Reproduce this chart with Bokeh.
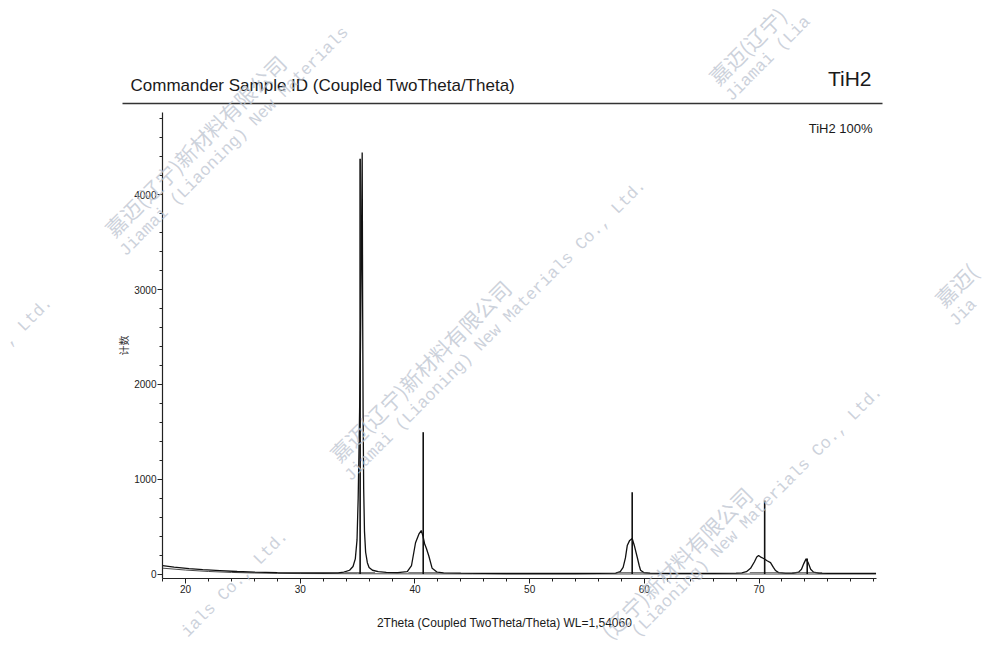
import numpy as np
from bokeh.plotting import figure
from bokeh.models import Range1d, FixedTicker, Label, Arrow
from bokeh.embed import file_html
from bokeh.resources import INLINE

# ---------------- data ----------------
two_theta = [18.0, 19.0, 20.3, 21.5, 23.0, 24.5, 26.0, 28.0, 30.0, 32.0, 33.3,
             33.8, 34.3, 34.6, 34.8, 34.95, 35.05, 35.15, 35.25, 35.33, 35.40,
             35.44, 35.48, 35.53, 35.6, 35.7, 35.85, 36.0, 36.3, 36.8, 37.5,
             38.5, 39.33, 39.7, 40.05, 40.34, 40.55, 40.7, 40.84, 41.0, 41.21,
             41.5, 41.94, 42.5, 44.0, 46.0, 48.0, 50.0, 52.0, 54.0, 56.0,
             57.5, 57.9, 58.15, 58.35, 58.51, 58.7, 58.94, 59.15, 59.38, 59.55,
             59.67, 59.95, 60.5, 62.0, 64.0, 66.0, 68.0, 68.5, 68.9, 69.26,
             69.6, 69.8, 69.96, 70.2, 70.4, 70.7, 71.0, 71.25, 71.44, 71.7,
             72.3, 73.0, 73.45, 73.7, 73.9, 74.1, 74.3, 74.5, 74.75, 75.2,
             76.0, 77.0, 78.0, 79.0, 80.2]
counts = [88, 74, 58, 46, 36, 27, 20, 15, 12, 11, 13,
          20, 40, 80, 160, 360, 800, 1500, 2400, 3400, 4446,
          2800, 1700, 900, 450, 230, 120, 70, 40, 25, 17,
          14, 25, 90, 330, 420, 459, 400, 320, 270, 190,
          60, 20, 13, 9, 7, 6, 6, 6, 6, 7,
          10, 25, 70, 170, 300, 350, 375, 290, 177, 90,
          40, 16, 9, 8, 8, 8, 10, 12, 25, 60,
          130, 180, 195, 175, 164, 140, 121, 70, 37, 15,
          10, 10, 20, 50, 110, 160, 115, 50, 20, 10,
          8, 8, 7, 7, 7]

bg_theta = [18.0, 20.0, 22.0, 24.0, 26.0, 28.0, 30.0, 35.0, 45.0, 80.2]
bg_counts = [62, 42, 27, 17, 11, 7, 5, 3, 1, 0]

stick_theta = [35.22, 40.72, 58.94, 70.49, 74.2]
stick_counts = [4380, 1496, 863, 775, 164]

x_major = [20, 30, 40, 50, 60, 70]
x_minor = [18, 22, 24, 26, 28, 32, 34, 36, 38, 42, 44, 46, 48, 52, 54, 56, 58,
           62, 64, 66, 68, 72, 74, 76, 78, 80]
y_major = [0, 1000, 2000, 3000, 4000]
y_minor = [200, 400, 600, 800, 1200, 1400, 1600, 1800, 2200, 2400, 2600, 2800,
           3200, 3400, 3600, 3800, 4200, 4400, 4600, 4800]

# ---------------- layout ----------------
# The plotting frame covers the whole canvas; the axes are pinned at the
# edges of the data box (fixed_location + bounds) so texts outside the data
# box are not clipped.
W, H = 984, 650
BL, BT, BR, BB = 162, 112, 876, 578      # data box edges in canvas px
X0, X1 = 17.99, 80.24
Y0, Y1 = -47, 4868
xs = (X1 - X0) / (BR - BL)
ys = (Y1 - Y0) / (BB - BT)

p = figure(width=W, height=H,
           min_border=0, min_border_left=0, min_border_right=0,
           min_border_top=0, min_border_bottom=0,
           x_range=Range1d(X0 - BL * xs, X1 + (W - BR) * xs),
           y_range=Range1d(Y0 - (H - BB) * ys, Y1 + BT * ys),
           output_backend="svg", toolbar_location=None)
p.outline_line_color = None
p.grid.visible = False
p.background_fill_color = "white"
p.border_fill_color = "white"

tick_font = "Liberation Sans Narrow, Liberation Sans, Arial Narrow, sans-serif"
for ax in (p.xaxis[0], p.yaxis[0]):
    ax.axis_line_color = "#222222"
    ax.axis_line_width = 1.2
    ax.major_tick_line_color = "#222222"
    ax.minor_tick_line_color = "#222222"
    ax.major_tick_in = 0
    ax.major_tick_out = 5
    ax.minor_tick_in = 0
    ax.minor_tick_out = 3
    ax.major_label_text_font = tick_font
    ax.major_label_text_font_size = "10px"
    ax.major_label_text_color = "#222222"
    ax.major_label_standoff = 1

p.xaxis.fixed_location = Y0
p.xaxis.bounds = (X0, X1)
p.yaxis.fixed_location = X0
p.yaxis.bounds = (Y0, Y1)
p.xaxis.ticker = FixedTicker(ticks=x_major, minor_ticks=x_minor)
p.yaxis.ticker = FixedTicker(ticks=y_major, minor_ticks=y_minor)
p.yaxis.axis_label = "计数"
p.yaxis.axis_label_text_font = "Noto Sans CJK SC"
p.yaxis.axis_label_text_font_size = "10px"
p.yaxis.axis_label_text_font_style = "normal"
p.yaxis.axis_label_text_color = "#333333"
p.yaxis.axis_label_standoff = 0

# ---------------- marks ----------------
p.line(bg_theta, bg_counts, line_color="#333333", line_width=0.9)
p.line(two_theta, counts, line_color="#111111", line_width=1.3)
base_half = 1.3
p.segment(x0=[s - base_half for s in stick_theta], y0=[15] * len(stick_theta),
          x1=[s + base_half for s in stick_theta], y1=[15] * len(stick_theta),
          line_color="#444444", line_width=0.8)
p.segment(x0=stick_theta, y0=[0] * len(stick_theta), x1=stick_theta,
          y1=stick_counts, line_color="#111111", line_width=1.6)

# ---------------- texts (positions in canvas px, y downward) ----------------
def add_text(px, py, text, font, size, align="left", color="#1a1a1a", angle=0.0, alpha=1.0):
    p.add_layout(Label(x=px, y=H - py, x_units="screen", y_units="screen",
                       text=text, text_font=font, text_font_size=size,
                       text_color=color, text_alpha=alpha, angle=angle,
                       text_align=align, text_baseline="middle"))

sans = "Liberation Sans, Arial, sans-serif"
add_text(130, 85, "Commander Sample ID (Coupled TwoTheta/Theta)", sans, "17px")
add_text(871, 78, "TiH2", sans, "21px", align="right")
add_text(872, 128, "TiH2 100%", sans, "13px", align="right")
add_text(504, 622, "2Theta (Coupled TwoTheta/Theta) WL=1,54060", sans, "12px", align="center")
p.add_layout(Arrow(end=None, start_units="screen", end_units="screen",
                   x_start=122, y_start=H - 103, x_end=882, y_end=H - 103,
                   line_color="#333333", line_width=1.5))

# ---------------- watermark ----------------
wm_cn = "嘉迈(辽宁)新材料有限公司"
wm_en = "Jiamai (Liaoning) New Materials Co., Ltd."
wm_color = "#bcc3cf"
marks = [
    (108, 232, wm_cn, "cn"), (122, 253, "Jiamai (Liaoning) New Materials", "en"),
    (333, 457, wm_cn, "cn"), (347, 478, wm_en, "en"),
    (604, 634, "(辽宁)新材料有限公司", "cn"), (634, 634, "(Liaoning) New Materials Co., Ltd.", "en"),
    (712, 80, "嘉迈(辽宁)", "cn"), (728, 98, "Jiamai (Lia", "en"),
    (938, 302, "嘉迈(", "cn"), (952, 323, "Jia", "en"),
    (6, 343, ", Ltd.", "en"),
    (184, 634, "ials Co., Ltd.", "en"),
]
for px, py, txt, kind in marks:
    if kind == "cn":
        font, size = "Noto Sans CJK SC", "21px"
    else:
        font, size = "Liberation Mono, DejaVu Sans Mono, monospace", "17px"
    add_text(px, py, txt, font, size, color=wm_color, angle=np.pi / 4, alpha=0.75)

open("out.html", "w").write(file_html(p, INLINE))
